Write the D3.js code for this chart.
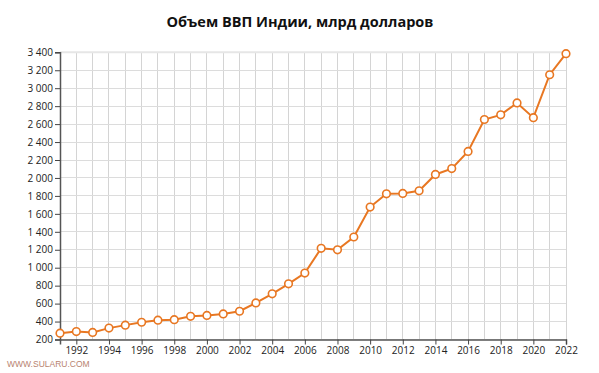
<!DOCTYPE html>
<html><head><meta charset="utf-8">
<script src="https://cdn.jsdelivr.net/npm/d3@7"></script>
<style>body{margin:0;background:#fff;} svg{display:block;}</style>
</head><body>
<svg id="c" width="599" height="373"></svg>
<script>
const years = [1991,1992,1993,1994,1995,1996,1997,1998,1999,2000,2001,2002,2003,2004,2005,2006,2007,2008,2009,2010,2011,2012,2013,2014,2015,2016,2017,2018,2019,2020,2021,2022];
const gdp = [270,288,279,327,360,392,415,421,458,468,485,515,608,709,820,940,1216,1199,1342,1676,1823,1828,1857,2039,2104,2295,2651,2703,2836,2672,3150,3385];
const yTicks = [200,400,600,800,1000,1200,1400,1600,1800,2000,2200,2400,2600,2800,3000,3200,3400];
const xTicks = [1992,1994,1996,1998,2000,2002,2004,2006,2008,2010,2012,2014,2016,2018,2020,2022];
const title = "Объем ВВП Индии, млрд долларов";
const watermark = "WWW.SULARU.COM";

const svg = d3.select("#c");
const L=60, R=566, T=52.3, B=339.5;
const x = d3.scaleLinear().domain([1991,2022]).range([L,R]);
const y = d3.scaleLinear().domain([200,3400]).range([B,T]);
const font = "'Open Sans', 'Segoe UI', sans-serif";

svg.append("text").attr("x",300).attr("y",27).attr("text-anchor","middle")
  .attr("font-family",font).attr("font-weight","bold").attr("font-size",14.5).attr("fill","#111").text(title);

const g = svg.append("g");
g.selectAll(".vg").data(years).join("line").attr("x1",d=>x(d)).attr("x2",d=>x(d)).attr("y1",T).attr("y2",B)
  .attr("stroke","#d4d4d4").attr("stroke-width",1).attr("shape-rendering","crispEdges");
g.selectAll(".hg").data(yTicks).join("line").attr("x1",L).attr("x2",R).attr("y1",d=>y(d)).attr("y2",d=>y(d))
  .attr("stroke","#dcdcdc").attr("stroke-width",1).attr("shape-rendering","crispEdges");
g.append("line").attr("x1",L).attr("x2",R).attr("y1",T).attr("y2",T).attr("stroke","#e6e6e6").attr("stroke-width",2);

const fmt = d => d3.format(",")(d).replace(/,/g," ");
const ya = svg.append("g").attr("transform",`translate(${L},0)`)
  .call(d3.axisLeft(y).tickValues(yTicks).tickSize(5).tickPadding(2).tickFormat(fmt));
const xa = svg.append("g").attr("transform",`translate(0,${B})`)
  .call(d3.axisBottom(x).tickValues(xTicks).tickSize(5).tickPadding(2).tickFormat(d3.format("d")));
[ya,xa].forEach(a=>{
  a.select(".domain").attr("stroke","#555").attr("stroke-width",1.5);
  a.selectAll(".tick line").attr("stroke","#444");
  a.selectAll("text").attr("font-family",font).attr("font-size",10).attr("fill","#222");
});

const line = d3.line().x((d,i)=>x(years[i])).y(d=>y(d));
svg.append("path").datum(gdp).attr("d",line).attr("fill","none").attr("stroke","#e87722").attr("stroke-width",2);
svg.selectAll(".pt").data(gdp).join("circle").attr("cx",(d,i)=>x(years[i])).attr("cy",d=>y(d)).attr("r",3.8)
  .attr("fill","#fff").attr("stroke","#e87722").attr("stroke-width",1.6);

svg.append("text").attr("x",7).attr("y",367).attr("font-family","'Liberation Sans', Arial, sans-serif")
  .attr("font-size",8.5).attr("fill","#b8836f").text(watermark);
</script>
</body></html>
